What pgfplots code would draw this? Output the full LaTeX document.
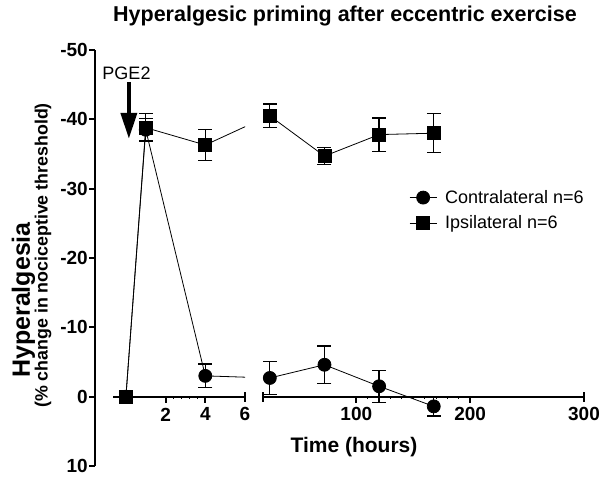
\documentclass[border=0pt]{standalone}
\usepackage{fontspec}
\setmainfont{Liberation Sans}
\usepackage{pgfplots}
\usepackage{pgfplotstable}
\pgfplotsset{compat=1.18}
\usetikzlibrary{arrows.meta}

\pgfplotstableread{
t v e
0 0 0
1 -38.5 1.6
4 -3.0 1.7
}\contraL
\pgfplotstableread{
t v e
24 -2.7 2.4
72 -4.6 2.7
120 -1.5 2.3
168 1.4 1.4
}\contraR
\pgfplotstableread{
t v e
0 0 0
1 -38.8 2.0
4 -36.3 2.2
}\ipsiL
\pgfplotstableread{
t v e
24 -40.5 1.7
72 -34.7 1.2
120 -37.8 2.4
168 -38.0 2.8
}\ipsiR

\pgfplotsset{
  dataaxis/.style={scale only axis, anchor=south west, height=416pt,
    ymin=-50, ymax=10, y dir=reverse, hide axis, clip=true},
  ser/.style={black, line width=0.8pt, mark size=6.5pt,
    error bars/y dir=both, error bars/y explicit,
    error bars/error bar style={line width=1.3pt},
    error bars/error mark options={rotate=90, line width=1.3pt, mark size=7pt}},
  conn/.style={black, line width=0.8pt, no marks},
  tickaxis/.style={scale only axis, anchor=south west, height=20pt,
    ymin=0, ymax=1, axis x line=bottom, axis y line=none,
    axis line style={-, line width=2pt}, tick align=outside,
    major tick length=6pt, minor tick length=2pt,
    every tick/.style={black, line width=2pt},
    minor tick style={line width=0.8pt},
    tick label style={font=\bfseries\fontsize{19}{19}\selectfont},
    xticklabel style={yshift=-1.5pt}},
}

\begin{document}
\begin{tikzpicture}
\path[use as bounding box] (0pt,0pt) rectangle (600pt,477pt);

% y axis
\begin{axis}[scale only axis, anchor=south west, at={(95pt,11pt)},
  width=10pt, height=416pt, ymin=-50, ymax=10, y dir=reverse,
  xmin=0, xmax=1, axis y line=left, axis x line=none,
  axis line style={-, line width=2pt}, tick align=outside,
  major tick length=6pt, every tick/.style={black, line width=2pt},
  ytick={-50,-40,-30,-20,-10,0,10},
  yticklabels={-50,-40,-30,-20,-10,0,10},
  tick label style={font=\bfseries\fontsize{19}{19}\selectfont},
  yticklabel style={inner sep=1pt}]
\end{axis}

% left x segment ticks
\begin{axis}[tickaxis, at={(113pt,80.3pt)}, width=132pt, xmin=-0.65, xmax=6,
  xtick={2,4}, xticklabels={2,4}, minor x tick num=4,
  extra x ticks={6}, extra x tick labels={6},
  extra tick style={tick align=center, major tick length=10pt}]
\end{axis}

% right x segment ticks
\begin{axis}[tickaxis, at={(263pt,80.3pt)}, width=321pt, xmin=18, xmax=300,
  xtick={100,200}, xticklabels={100,200}, minor x tick num=9,
  extra x ticks={18,300}, extra x tick labels={,300},
  extra tick style={tick align=center, major tick length=10pt}]
\end{axis}

% left data
\begin{axis}[dataaxis, at={(113pt,11pt)}, width=132pt, xmin=-0.65, xmax=6]
\addplot[conn] coordinates {(4,-3.0) (7.19,-2.7)};
\addplot[conn] coordinates {(4,-36.3) (7.19,-40.5)};
\addplot[ser, mark=*] table[x=t, y=v, y error=e] {\contraL};
\addplot[ser, mark=square*] table[x=t, y=v, y error=e] {\ipsiL};
\draw[line width=4pt, -{Triangle[length=26pt, width=16pt]}]
  (axis cs:0.15,-45.4) -- (axis cs:0.15,-37.2);
\end{axis}

% right data
\begin{axis}[dataaxis, at={(263pt,11pt)}, width=321pt, xmin=18, xmax=300,
  legend style={at={(0.455,0.668)}, anchor=north west, draw=none, fill=none,
    font=\fontsize{18}{18}\selectfont, row sep=7pt, inner sep=0pt},
  legend cell align=left,
  legend image code/.code={\draw[mark repeat=2, mark phase=2, #1]
    plot coordinates {(0pt,0pt) (13.5pt,0pt) (27pt,0pt)};}]
\addlegendimage{black, line width=0.8pt, mark=*, mark size=6.5pt}
\addlegendentry{\hspace*{6pt}Contralateral n=6}
\addlegendimage{black, line width=0.8pt, mark=square*, mark size=6.5pt}
\addlegendentry{\hspace*{6pt}Ipsilateral n=6}
\addplot[conn, forget plot] coordinates {(-32.1,-3.0) (24,-2.7)};
\addplot[conn, forget plot] coordinates {(-32.1,-36.3) (24,-40.5)};
\addplot[ser, mark=*, forget plot] table[x=t, y=v, y error=e] {\contraR};
\addplot[ser, mark=square*, forget plot] table[x=t, y=v, y error=e] {\ipsiR};
\end{axis}

% texts
\node[anchor=base, font=\bfseries\fontsize{21.5}{21.5}\selectfont] at (345pt,455pt)
  {Hyperalgesic priming after eccentric exercise};
\node[anchor=base, font=\bfseries\fontsize{21}{21}\selectfont] at (354pt,25pt)
  {Time (hours)};
\node[anchor=base, font=\fontsize{18}{18}\selectfont] at (126.5pt,397.5pt) {PGE2};
\node[anchor=base, rotate=90, font=\bfseries\fontsize{25}{25}\selectfont] at (30pt,177pt)
  {Hyperalgesia};
\node[anchor=base, rotate=90, font=\bfseries\fontsize{17.8}{17.8}\selectfont] at (47.5pt,221.5pt)
  {(\% change in nociceptive threshold)};
\end{tikzpicture}
\end{document}
